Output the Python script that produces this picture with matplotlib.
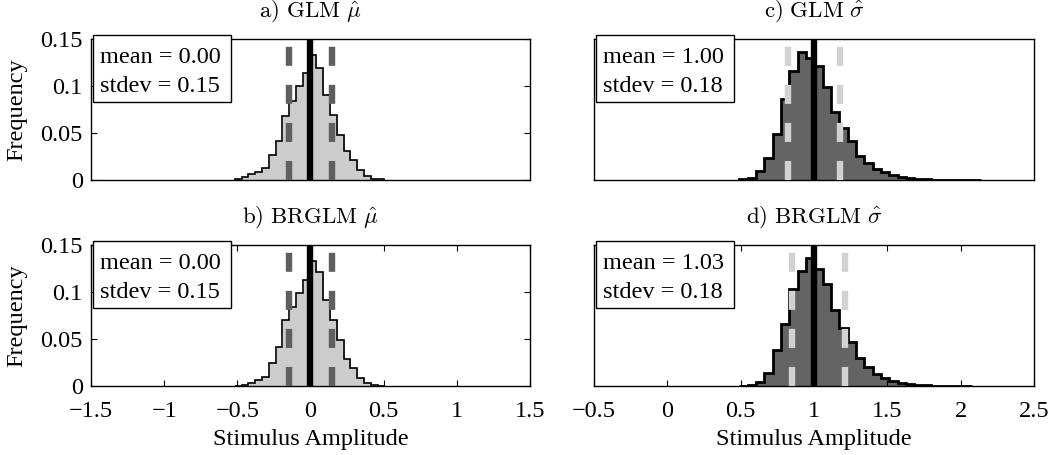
import numpy as np
import matplotlib.pyplot as plt
from matplotlib.patches import Rectangle
from matplotlib.ticker import FuncFormatter

plt.rcParams['font.family'] = ['Liberation Serif', 'DejaVu Serif']
plt.rcParams['mathtext.fontset'] = 'cm'
plt.rcParams['lines.scale_dashes'] = False

# histogram bins (frequency per bin)
mu_edge0, mu_width = -0.5175, 0.0465
glm_mu_freq = [0.0014, 0.003, 0.006, 0.009, 0.013, 0.027, 0.042, 0.068, 0.084, 0.100, 0.114,
               0.133, 0.119, 0.090, 0.069, 0.048, 0.031, 0.021, 0.011, 0.004, 0.0015, 0.0008]
brglm_mu_freq = [0.0005, 0.0007, 0.003, 0.006, 0.010, 0.025, 0.041, 0.070, 0.084, 0.099, 0.113,
                 0.133, 0.121, 0.091, 0.070, 0.049, 0.029, 0.019, 0.009, 0.003, 0.0007, 0.0005]

sig_edge0, sig_width = 0.4906, 0.0568
glm_sig_freq = [0.0007, 0.0025, 0.0095, 0.023, 0.049, 0.086, 0.116, 0.136, 0.130, 0.121, 0.099,
                0.072, 0.055, 0.041, 0.025, 0.018, 0.012, 0.008, 0.005, 0.0035, 0.002, 0.0015,
                0.001, 0.0005, 0.0005, 0.0003, 0.0003, 0.0002, 0.0002]
brglm_sig_freq = [0.0002, 0.0007, 0.0046, 0.0134, 0.038, 0.066, 0.103, 0.122, 0.136, 0.124, 0.108,
                  0.081, 0.062, 0.047, 0.030, 0.020, 0.013, 0.009, 0.0055, 0.0035, 0.002, 0.0015,
                  0.001, 0.0005, 0.0004, 0.0003, 0.0002, 0.0002]

true_mu, true_sig = 0.0, 1.0
means = [0.00, 0.00, 1.00, 1.03]
stdevs = [0.15, 0.15, 0.18, 0.18]
titles = [r'$\mathrm{a)\ GLM}\ \hat{\mu}$', r'$\mathrm{b)\ BRGLM}\ \hat{\mu}$',
          r'$\mathrm{c)\ GLM}\ \hat{\sigma}$', r'$\mathrm{d)\ BRGLM}\ \hat{\sigma}$']
mu_ticks = [-1.5, -1, -0.5, 0, 0.5, 1, 1.5]
sig_ticks = [-0.5, 0, 0.5, 1, 1.5, 2, 2.5]
y_ticks = [0, 0.05, 0.1, 0.15]

fmt = FuncFormatter(lambda v, p: ('%g' % v).replace('-', '\u2212'))

fig = plt.figure(figsize=(10.5, 4.55), dpi=100)
pos = [[0.0867, 0.6044, 0.418, 0.31], [0.0867, 0.1516, 0.418, 0.31],
       [0.5657, 0.6044, 0.419, 0.31], [0.5657, 0.1516, 0.419, 0.31]]

panels = [
    (glm_mu_freq, mu_edge0, mu_width, true_mu, (-1.5, 1.5), mu_ticks, '#cccccc', '#5f5f5f', 1.2),
    (brglm_mu_freq, mu_edge0, mu_width, true_mu, (-1.5, 1.5), mu_ticks, '#cccccc', '#5f5f5f', 1.2),
    (glm_sig_freq, sig_edge0, sig_width, true_sig, (-0.5, 2.5), sig_ticks, '#646464', '#d2d2d2', 2.0),
    (brglm_sig_freq, sig_edge0, sig_width, true_sig, (-0.5, 2.5), sig_ticks, '#646464', '#d2d2d2', 2.0),
]

for i, (freq, e0, w, truth, xlim, xt, fillc, dashc, olw) in enumerate(panels):
    ax = fig.add_axes(pos[i])
    freq = np.array(freq)
    edges = e0 + w * np.arange(len(freq) + 1)
    ax.stairs(freq, edges + 0.007, fill=True, color=fillc, zorder=1)
    ax.stairs(freq, edges, color='k', lw=olw, zorder=2)
    for x in (means[i] - stdevs[i], means[i] + stdevs[i]):
        ax.axvline(x, color=dashc, lw=4.6, ls=(0, (13.7, 13.7)), zorder=3)
    ax.axvline(truth, color='k', lw=4.6, zorder=4)

    ax.set_xlim(*xlim)
    ax.set_ylim(0, 0.15)
    ax.tick_params(direction='in', length=4, width=0.8, top=True, right=True,
                   labelsize=17.5)
    ax.tick_params(axis='x', pad=11)
    ax.tick_params(axis='y', pad=6)
    for s in ax.spines.values():
        s.set_linewidth(1.0)
    if i % 2 == 0:
        ax.set_xticks([])
    else:
        ax.set_xticks(xt)
        ax.xaxis.set_major_formatter(fmt)
        ax.set_xlabel('Stimulus Amplitude', fontsize=17.5, labelpad=5)
    if i < 2:
        ax.set_yticks(y_ticks)
        ax.yaxis.set_major_formatter(fmt)
        ax.set_ylabel('Frequency', fontsize=17.5, labelpad=9)
    else:
        ax.set_yticks([])
    ax.set_title(titles[i], fontsize=16.5, pad=16)

    ax.add_patch(Rectangle((0.005, 0.55), 0.314, 0.475, transform=ax.transAxes,
                           facecolor='white', edgecolor='k', lw=1.0, clip_on=False, zorder=10))
    ax.text(0.0205, 0.83, 'mean = %.2f' % means[i], transform=ax.transAxes,
            fontsize=17.5, va='baseline', zorder=11)
    ax.text(0.0205, 0.626, 'stdev = %.2f' % stdevs[i], transform=ax.transAxes,
            fontsize=17.5, va='baseline', zorder=11)

fig.savefig('out.png', dpi=100)
